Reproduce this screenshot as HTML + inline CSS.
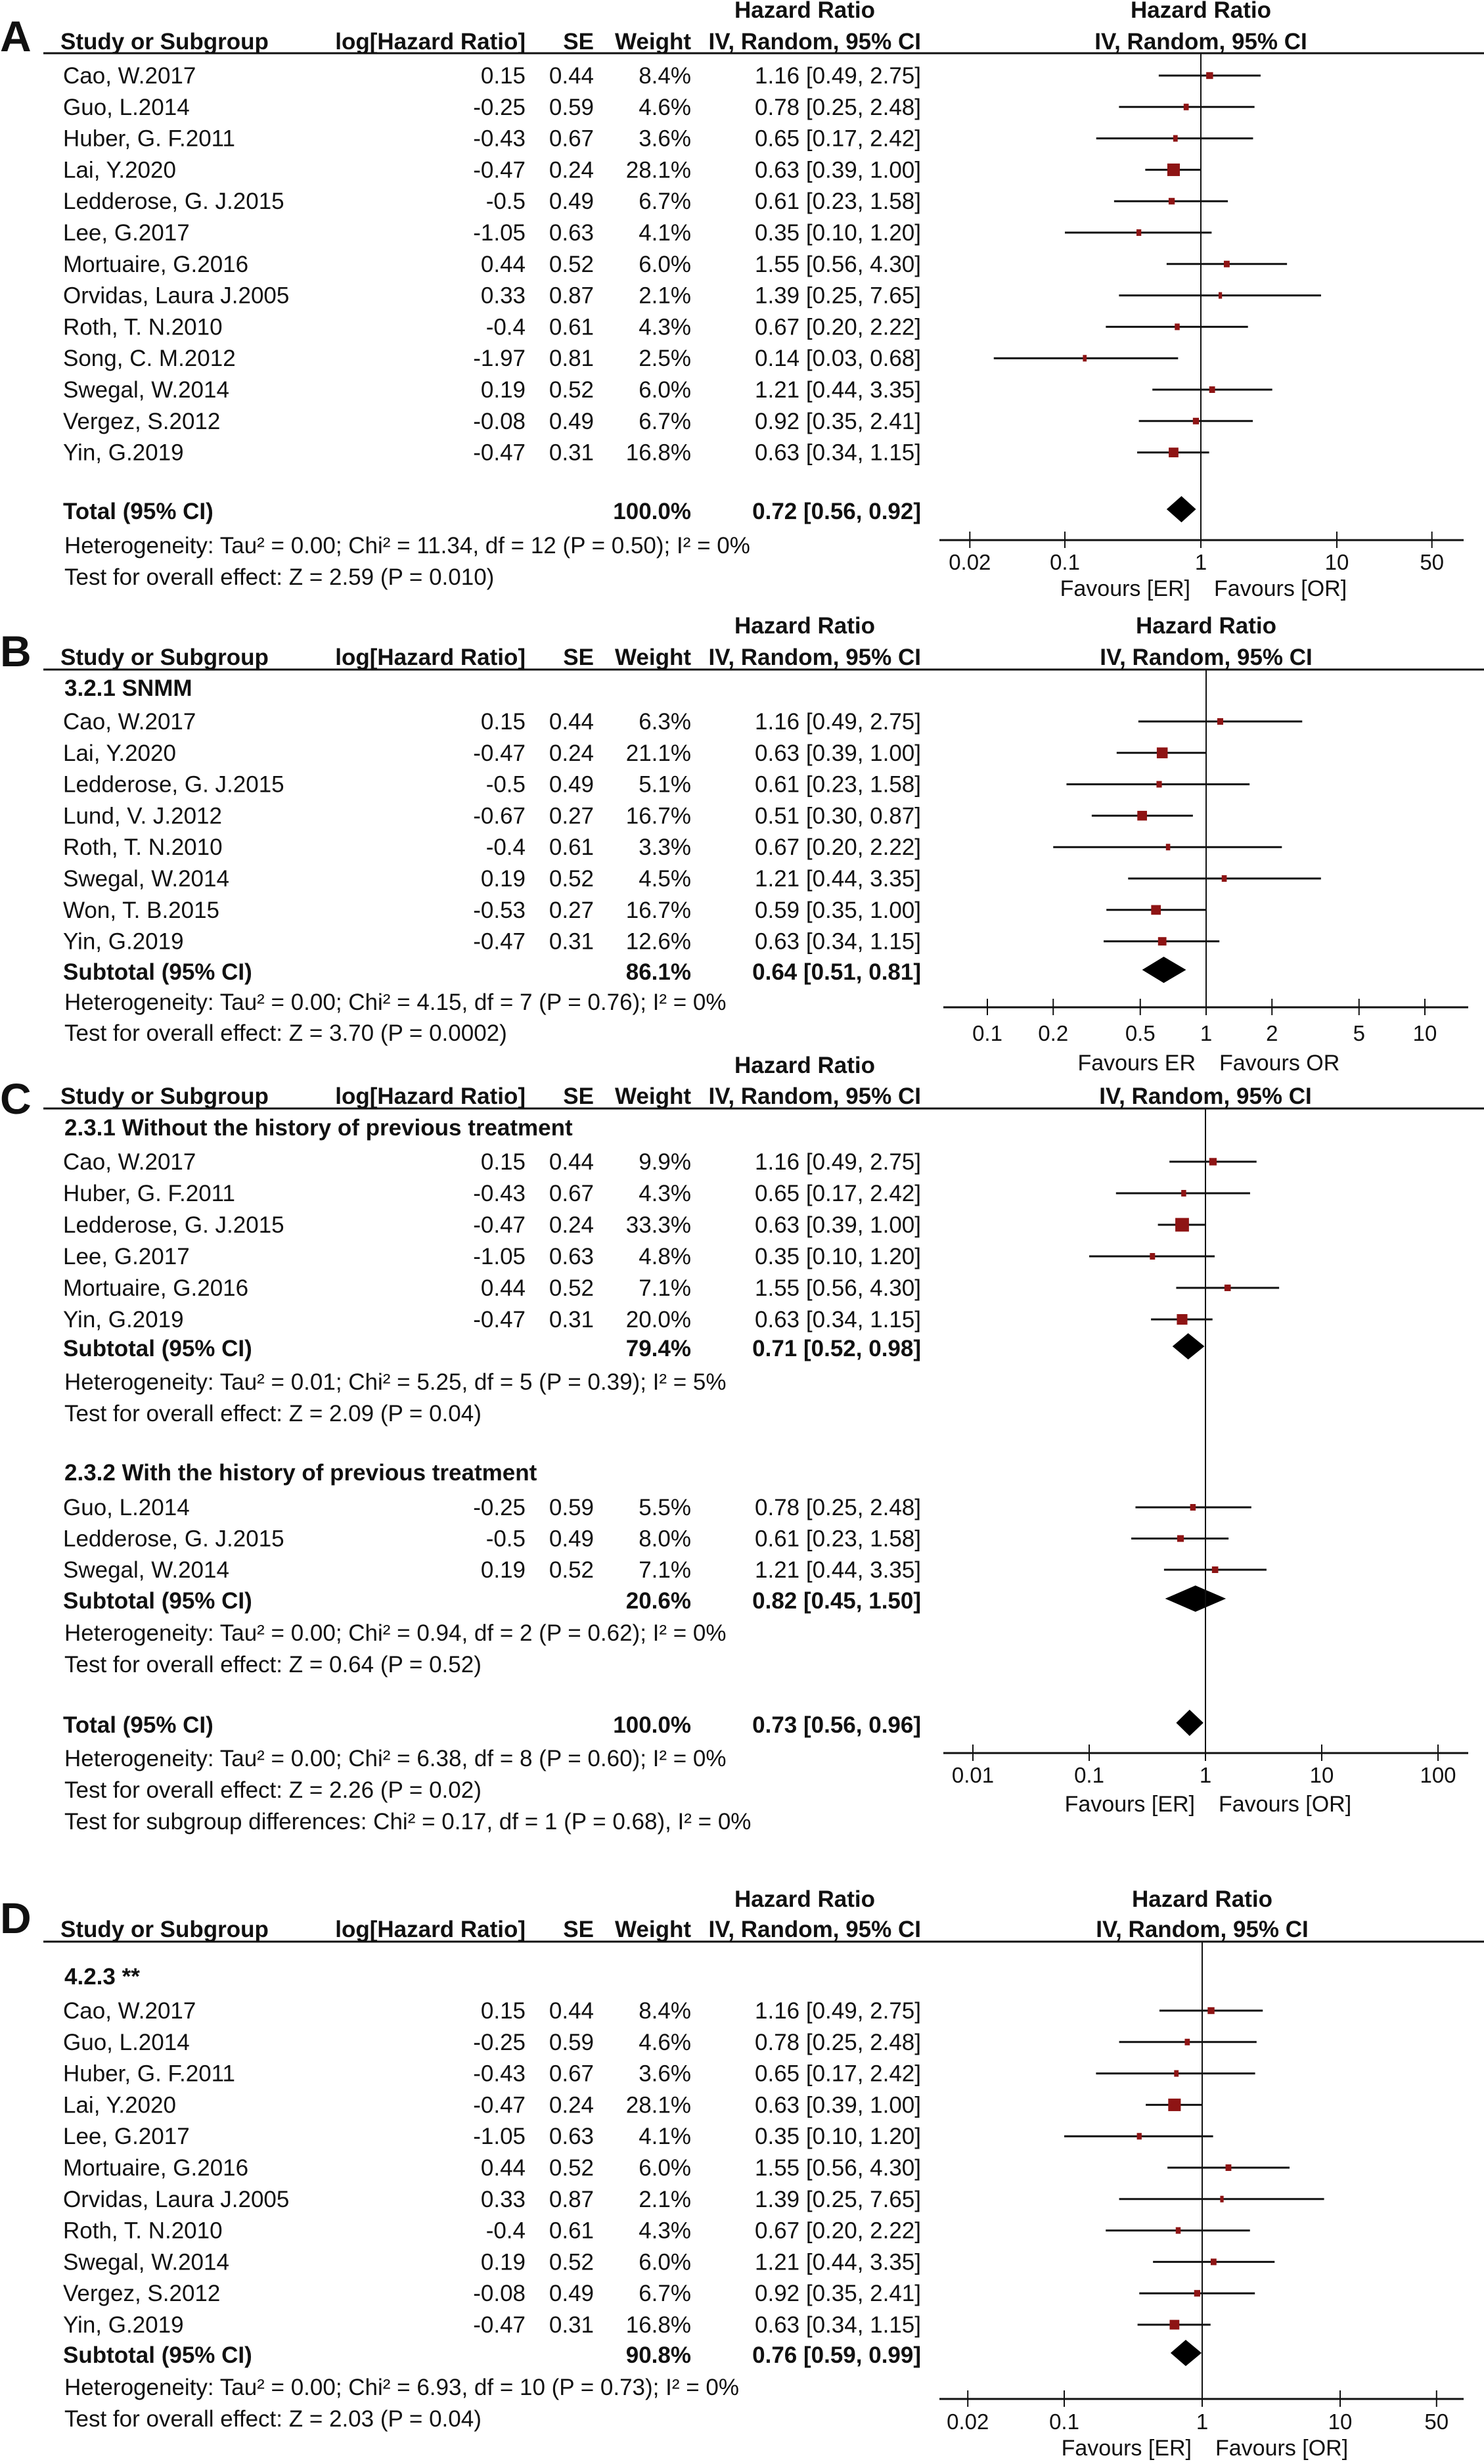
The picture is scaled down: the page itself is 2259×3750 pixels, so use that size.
<!DOCTYPE html>
<html><head><meta charset="utf-8">
<style>
html,body{margin:0;padding:0;background:#fff;}
svg{display:block;}
text{font-family:"Liberation Sans",Arial,sans-serif;fill:#111;}
</style></head>
<body>
<svg id="chart" width="2259" height="3750" viewBox="0 0 2259 3750" xmlns="http://www.w3.org/2000/svg"></svg>
<script>
// ---------- Panel A data ----------
const A_names = ["Cao, W.2017","Guo, L.2014","Huber, G. F.2011","Lai, Y.2020","Ledderose, G. J.2015","Lee, G.2017","Mortuaire, G.2016","Orvidas, Laura J.2005","Roth, T. N.2010","Song, C. M.2012","Swegal, W.2014","Vergez, S.2012","Yin, G.2019"];
const A_logHR = ["0.15","-0.25","-0.43","-0.47","-0.5","-1.05","0.44","0.33","-0.4","-1.97","0.19","-0.08","-0.47"];
const A_se = ["0.44","0.59","0.67","0.24","0.49","0.63","0.52","0.87","0.61","0.81","0.52","0.49","0.31"];
const A_weight = [8.4,4.6,3.6,28.1,6.7,4.1,6.0,2.1,4.3,2.5,6.0,6.7,16.8];
const A_hr = [1.16,0.78,0.65,0.63,0.61,0.35,1.55,1.39,0.67,0.14,1.21,0.92,0.63];
const A_lo = [0.49,0.25,0.17,0.39,0.23,0.10,0.56,0.25,0.20,0.03,0.44,0.35,0.34];
const A_hi = [2.75,2.48,2.42,1.00,1.58,1.20,4.30,7.65,2.22,0.68,3.35,2.41,1.15];
const A_total = [0.72,0.56,0.92];
const A_ticks = [0.02,0.1,1,10,50];
const A_tickLabels = ["0.02","0.1","1","10","50"];

// ---------- Panel B data ----------
const B_names = ["Cao, W.2017","Lai, Y.2020","Ledderose, G. J.2015","Lund, V. J.2012","Roth, T. N.2010","Swegal, W.2014","Won, T. B.2015","Yin, G.2019"];
const B_logHR = ["0.15","-0.47","-0.5","-0.67","-0.4","0.19","-0.53","-0.47"];
const B_se = ["0.44","0.24","0.49","0.27","0.61","0.52","0.27","0.31"];
const B_weight = [6.3,21.1,5.1,16.7,3.3,4.5,16.7,12.6];
const B_hr = [1.16,0.63,0.61,0.51,0.67,1.21,0.59,0.63];
const B_lo = [0.49,0.39,0.23,0.30,0.20,0.44,0.35,0.34];
const B_hi = [2.75,1.00,1.58,0.87,2.22,3.35,1.00,1.15];
const B_total = [0.64,0.51,0.81];
const B_ticks = [0.1,0.2,0.5,1,2,5,10];
const B_tickLabels = ["0.1","0.2","0.5","1","2","5","10"];

// ---------- Panel C data ----------
const C1_names = ["Cao, W.2017","Huber, G. F.2011","Ledderose, G. J.2015","Lee, G.2017","Mortuaire, G.2016","Yin, G.2019"];
const C1_logHR = ["0.15","-0.43","-0.47","-1.05","0.44","-0.47"];
const C1_se = ["0.44","0.67","0.24","0.63","0.52","0.31"];
const C1_weight = [9.9,4.3,33.3,4.8,7.1,20.0];
const C1_hr = [1.16,0.65,0.63,0.35,1.55,0.63];
const C1_lo = [0.49,0.17,0.39,0.10,0.56,0.34];
const C1_hi = [2.75,2.42,1.00,1.20,4.30,1.15];
const C1_total = [0.71,0.52,0.98];
const C2_names = ["Guo, L.2014","Ledderose, G. J.2015","Swegal, W.2014"];
const C2_logHR = ["-0.25","-0.5","0.19"];
const C2_se = ["0.59","0.49","0.52"];
const C2_weight = [5.5,8.0,7.1];
const C2_hr = [0.78,0.61,1.21];
const C2_lo = [0.25,0.23,0.44];
const C2_hi = [2.48,1.58,3.35];
const C2_total = [0.82,0.45,1.50];
const C_total = [0.73,0.56,0.96];
const C_ticks = [0.01,0.1,1,10,100];
const C_tickLabels = ["0.01","0.1","1","10","100"];

// ---------- Panel D data ----------
const D_names = ["Cao, W.2017","Guo, L.2014","Huber, G. F.2011","Lai, Y.2020","Lee, G.2017","Mortuaire, G.2016","Orvidas, Laura J.2005","Roth, T. N.2010","Swegal, W.2014","Vergez, S.2012","Yin, G.2019"];
const D_logHR = ["0.15","-0.25","-0.43","-0.47","-1.05","0.44","0.33","-0.4","0.19","-0.08","-0.47"];
const D_se = ["0.44","0.59","0.67","0.24","0.63","0.52","0.87","0.61","0.52","0.49","0.31"];
const D_weight = [8.4,4.6,3.6,28.1,4.1,6.0,2.1,4.3,6.0,6.7,16.8];
const D_hr = [1.16,0.78,0.65,0.63,0.35,1.55,1.39,0.67,1.21,0.92,0.63];
const D_lo = [0.49,0.25,0.17,0.39,0.10,0.56,0.25,0.20,0.44,0.35,0.34];
const D_hi = [2.75,2.48,2.42,1.00,1.20,4.30,7.65,2.22,3.35,2.41,1.15];
const D_total = [0.76,0.59,0.99];
const D_ticks = [0.02,0.1,1,10,50];
const D_tickLabels = ["0.02","0.1","1","10","50"];

const NS = "http://www.w3.org/2000/svg";
const svg = document.getElementById("chart");
const COL = {study:96, log:800, se:904, wt:1052, ci:1402, hrMid:1225};

function mk(tag, attrs, name, parent){
  const el = document.createElementNS(NS, tag);
  for (const k in attrs) el.setAttribute(k, attrs[k]);
  
  
  (parent||svg).appendChild(el);
  return el;
}
function txt(x, y, s, name, opt){
  opt = opt || {};
  const el = mk("text", {x:x, y:y, "font-size":opt.size||35, "text-anchor":opt.anchor||"start", "font-weight":opt.bold?"bold":"normal"}, name);
  if (opt.fill) el.setAttribute("fill", opt.fill);
  el.textContent = s;
  return el;
}
function fmt(v){ return v.toFixed(2); }
function ciStr(hr,lo,hi){ return fmt(hr)+" ["+fmt(lo)+", "+fmt(hi)+"]"; }

function makeScale(center, decade){ return v => center + Math.log10(v)*decade; }

function header(letter, letterY, hrY, hdrY, ulY, sx, showPlotHR){
  txt(0, letterY, letter, "panel-label-"+letter, {size:66, bold:true});
  txt(COL.hrMid, hrY, "Hazard Ratio", "ci-column-title", {bold:true, anchor:"middle"});
  if (showPlotHR) txt(sx(1), hrY, "Hazard Ratio", "plot-title", {bold:true, anchor:"middle"});
  txt(92, hdrY, "Study or Subgroup", "study-column-header", {bold:true});
  txt(COL.log, hdrY, "log[Hazard Ratio]", "loghr-column-header", {bold:true, anchor:"end"});
  txt(COL.se, hdrY, "SE", "se-column-header", {bold:true, anchor:"end"});
  txt(COL.wt, hdrY, "Weight", "weight-column-header", {bold:true, anchor:"end"});
  txt(COL.ci, hdrY, "IV, Random, 95% CI", "ci-column-header", {bold:true, anchor:"end"});
  txt(sx(1), hdrY, "IV, Random, 95% CI", "plot-method-header", {bold:true, anchor:"middle"});
  mk("line", {x1:66, x2:2259, y1:ulY, y2:ulY, stroke:"#111", "stroke-width":3}, "header-rule");
}

function rows(names, logHR, se, wt, hr, lo, hi, y0, step, sx){
  for (let i=0;i<names.length;i++){
    const y = y0 + i*step;
    txt(COL.study, y, names[i], "study-name");
    txt(COL.log, y, logHR[i], "loghr-value", {anchor:"end"});
    txt(COL.se, y, se[i], "se-value", {anchor:"end"});
    txt(COL.wt, y, wt[i].toFixed(1)+"%", "weight-value", {anchor:"end"});
    txt(COL.ci, y, ciStr(hr[i],lo[i],hi[i]), "ci-value", {anchor:"end"});
    const cy = y - 12;
    mk("line", {x1:sx(lo[i]), x2:sx(hi[i]), y1:cy, y2:cy, stroke:"#111", "stroke-width":3}, "ci-whisker");
    const w = 3.6*Math.sqrt(wt[i]);
    const h = Math.max(w, 10);
    mk("rect", {x:sx(hr[i])-w/2, y:cy-h/2, width:w, height:h, fill:"#8e1414"}, "effect-box");
  }
}

function summary(label, wtStr, tot, y, sx, name){
  txt(COL.study, y, label, name+"-label", {bold:true});
  txt(COL.wt, y, wtStr, name+"-weight", {bold:true, anchor:"end"});
  txt(COL.ci, y, ciStr(tot[0],tot[1],tot[2]), name+"-ci", {bold:true, anchor:"end"});
  const cy = y - 15, h = 20;
  const pts = [[sx(tot[1]),cy],[sx(tot[0]),cy-h],[sx(tot[2]),cy],[sx(tot[0]),cy+h]].map(p=>p.join(",")).join(" ");
  mk("polygon", {points:pts, fill:"#000"}, name+"-diamond");
}

function axis(sx, ticks, labels, ax0, ax1, axY, topY, lblY, favY, fav1, fav2){
  mk("line", {x1:sx(1), x2:sx(1), y1:topY, y2:axY, stroke:"#111", "stroke-width":2}, "null-effect-line");
  mk("line", {x1:ax0, x2:ax1, y1:axY, y2:axY, stroke:"#111", "stroke-width":3}, "x-axis-line");
  for (let i=0;i<ticks.length;i++){
    mk("line", {x1:sx(ticks[i]), x2:sx(ticks[i]), y1:axY-13, y2:axY+12, stroke:"#111", "stroke-width":2}, "x-axis-tick");
    txt(sx(ticks[i]), lblY, labels[i], "x-tick-label", {size:33, anchor:"middle", fill:"#222"});
  }
  txt(sx(1)-16, favY, fav1, "favours-left-label", {size:34, anchor:"end", fill:"#333"});
  txt(sx(1)+20, favY, fav2, "favours-right-label", {size:34, fill:"#333"});
}

// ===== Panel A =====
(function(){
  const sx = makeScale(1828, 207);
  header("A", 78, 27, 75, 81, sx, true);
  rows(A_names, A_logHR, A_se, A_weight, A_hr, A_lo, A_hi, 127, 47.8, sx);
  summary("Total (95% CI)", "100.0%", A_total, 790, sx, "total");
  txt(98, 842, "Heterogeneity: Tau² = 0.00; Chi² = 11.34, df = 12 (P = 0.50); I² = 0%", "heterogeneity-text");
  txt(98, 890, "Test for overall effect: Z = 2.59 (P = 0.010)", "overall-effect-text");
  axis(sx, A_ticks, A_tickLabels, 1430, 2228, 822, 81, 867, 907, "Favours [ER]", "Favours [OR]");
})();

// ===== Panel B =====
(function(){
  const sx = makeScale(1836, 333);
  header("B", 1014, 964, 1012, 1019, sx, true);
  txt(98, 1059, "3.2.1 SNMM", "subgroup-heading", {bold:true});
  rows(B_names, B_logHR, B_se, B_weight, B_hr, B_lo, B_hi, 1110, 47.8, sx);
  summary("Subtotal (95% CI)", "86.1%", B_total, 1491, sx, "subtotal");
  txt(98, 1537, "Heterogeneity: Tau² = 0.00; Chi² = 4.15, df = 7 (P = 0.76); I² = 0%", "heterogeneity-text");
  txt(98, 1584, "Test for overall effect: Z = 3.70 (P = 0.0002)", "overall-effect-text");
  axis(sx, B_ticks, B_tickLabels, 1436, 2235, 1533, 1019, 1584, 1629, "Favours ER", "Favours OR");
})();

// ===== Panel C =====
(function(){
  const sx = makeScale(1835, 177);
  header("C", 1695, 1633, 1680, 1687, sx, false);
  txt(98, 1728, "2.3.1 Without the history of previous treatment", "subgroup-heading", {bold:true});
  rows(C1_names, C1_logHR, C1_se, C1_weight, C1_hr, C1_lo, C1_hi, 1780, 48, sx);
  summary("Subtotal (95% CI)", "79.4%", C1_total, 2064, sx, "subtotal");
  txt(98, 2115, "Heterogeneity: Tau² = 0.01; Chi² = 5.25, df = 5 (P = 0.39); I² = 5%", "heterogeneity-text");
  txt(98, 2163, "Test for overall effect: Z = 2.09 (P = 0.04)", "overall-effect-text");
  txt(98, 2253, "2.3.2 With the history of previous treatment", "subgroup-heading", {bold:true});
  rows(C2_names, C2_logHR, C2_se, C2_weight, C2_hr, C2_lo, C2_hi, 2306, 47.5, sx);
  summary("Subtotal (95% CI)", "20.6%", C2_total, 2448, sx, "subtotal");
  txt(98, 2497, "Heterogeneity: Tau² = 0.00; Chi² = 0.94, df = 2 (P = 0.62); I² = 0%", "heterogeneity-text");
  txt(98, 2545, "Test for overall effect: Z = 0.64 (P = 0.52)", "overall-effect-text");
  summary("Total (95% CI)", "100.0%", C_total, 2637, sx, "total");
  txt(98, 2688, "Heterogeneity: Tau² = 0.00; Chi² = 6.38, df = 8 (P = 0.60); I² = 0%", "heterogeneity-text");
  txt(98, 2736, "Test for overall effect: Z = 2.26 (P = 0.02)", "overall-effect-text");
  txt(98, 2784, "Test for subgroup differences: Chi² = 0.17, df = 1 (P = 0.68), I² = 0%", "subgroup-difference-text");
  axis(sx, C_ticks, C_tickLabels, 1436, 2235, 2668, 1687, 2713, 2757, "Favours [ER]", "Favours [OR]");
})();

// ===== Panel D =====
(function(){
  const sx = makeScale(1830, 210);
  header("D", 2942, 2902, 2948, 2955, sx, true);
  txt(98, 3020, "4.2.3 **", "subgroup-heading", {bold:true});
  rows(D_names, D_logHR, D_se, D_weight, D_hr, D_lo, D_hi, 3072, 47.8, sx);
  summary("Subtotal (95% CI)", "90.8%", D_total, 3596, sx, "subtotal");
  txt(98, 3645, "Heterogeneity: Tau² = 0.00; Chi² = 6.93, df = 10 (P = 0.73); I² = 0%", "heterogeneity-text");
  txt(98, 3693, "Test for overall effect: Z = 2.03 (P = 0.04)", "overall-effect-text");
  axis(sx, D_ticks, D_tickLabels, 1430, 2228, 3651, 2955, 3697, 3737, "Favours [ER]", "Favours [OR]");
})();
</script>
</body></html>
